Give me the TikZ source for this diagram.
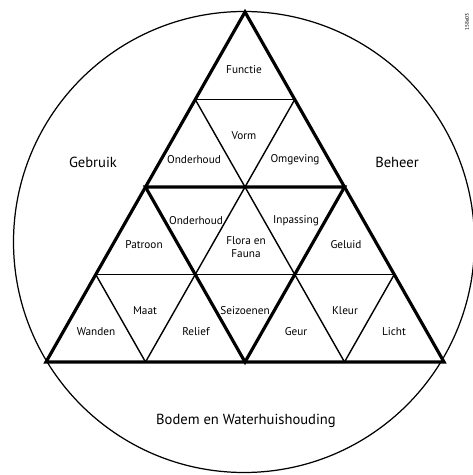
\documentclass[tikz,border=0pt]{standalone}
\usepackage{fontspec}
\setmainfont{PT Sans}
\usepackage{tikz}

\tikzset{
  thickline/.style={line width=1.8pt, line join=miter},
  thinline/.style={line width=0.8pt},
  cell/.style={font=\fontsize{6.4}{7.4}\selectfont, inner sep=0pt, align=center},
  outer/.style={font=\fontsize{8.3}{9}\selectfont, inner sep=0pt}
}

\begin{document}
\begin{tikzpicture}[x=0.02cm,y=-0.02cm]
  \useasboundingbox (0,0) rectangle (472,475);
  % circle round the pyramid
  \draw[line width=0.7pt] (244,242) circle (230.5);
  % lattice points, row i, place j
  \foreach \i in {0,...,4}{
     \foreach \j in {0,...,\i}{
        \coordinate (p\i\j) at ({245-49.75*\i+99.5*\j},{12+87.5*\i});
     }
  }
  % thin grid
  \foreach \i in {1,...,4}{
     \draw[thinline] (p\i0) -- (p\i\i);
  }
  \foreach \k in {0,...,3}{
     \pgfmathtruncatemacro{\m}{4-\k}
     \draw[thinline] (p\k\k) -- (p4\k);
     \draw[thinline] (p\k0) -- (p4\m);
  }
  % thick outline and middle triangle
  \draw[thickline] (p00) -- (p40) -- (p44) -- cycle;
  \draw[thickline] (p20) -- (p22) -- (p42) -- cycle;
  % labels in the cells
  \node[cell] (functie) at (244,70) {Functie};
  \node[cell] (vorm) at (244,136) {Vorm};
  \node[cell] (onderhoud1) at (194,160) {Onderhoud};
  \node[cell] (omgeving) at (295,160) {Omgeving};
  \node[cell] (onderhoud2) at (196,221) {Onderhoud};
  \node[cell] (inpassing) at (296,221) {Inpassing};
  \node[cell] (patroon) at (144,245) {Patroon};
  \node[cell] (flora) at (246,247) {Flora en\\Fauna};
  \node[cell] (geluid) at (346,245) {Geluid};
  \node[cell] (maat) at (145,311) {Maat};
  \node[cell] (seizoenen) at (245,311) {Seizoenen};
  \node[cell] (kleur) at (345,311) {Kleur};
  \node[cell] (wanden) at (96,332) {Wanden};
  \node[cell] (relief) at (196,332) {Relief};
  \node[cell] (geur) at (296,332) {Geur};
  \node[cell] (licht) at (394,332) {Licht};
  % labels round the pyramid
  \node[outer] (gebruik) at (93,162) {Gebruik};
  \node[outer] (beheer) at (397,162) {Beheer};
  \node[outer] (bodem) at (246,421) {Bodem en Waterhuishouding};
  \node[font=\fontsize{3}{3}\selectfont, rotate=90, inner sep=0pt] (stamp) at (467,22) {158e03};
\end{tikzpicture}
\end{document}
